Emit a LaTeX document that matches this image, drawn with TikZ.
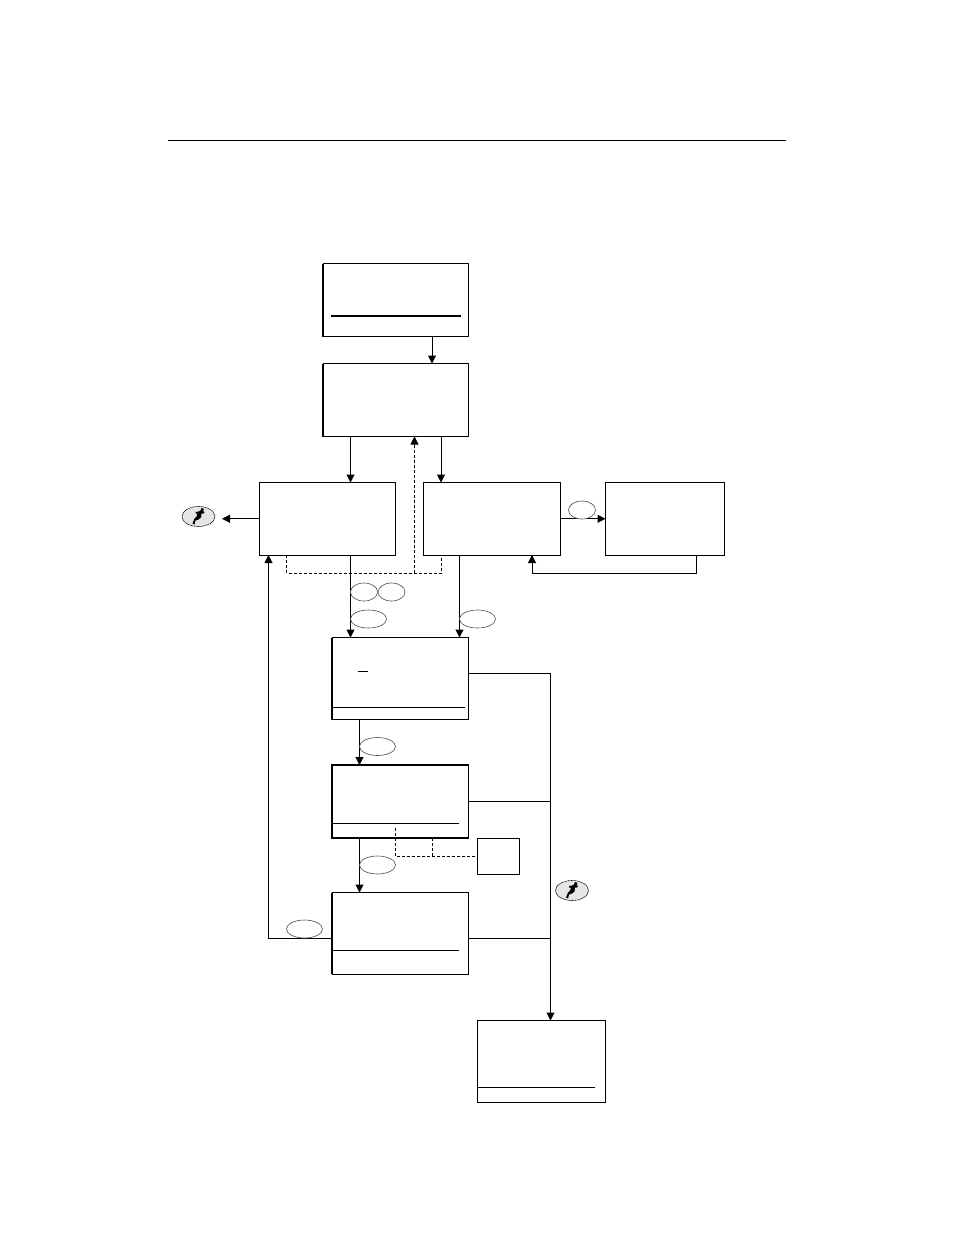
\documentclass[tikz,border=0pt]{standalone}
\usetikzlibrary{arrows.meta,shapes.geometric}
\newcommand{\flowbox}[6]{\node[sbox,minimum width=#4 pt,minimum height=#5 pt,#6] (#1) at (#2,#3) {};}
\begin{document}
\begin{tikzpicture}[x=1pt,y=-1pt,line width=1pt,
  arr/.style={-{Triangle[length=8pt,width=8pt]}},
  dashline/.style={dash pattern=on 3pt off 2pt,line width=.8pt},
  sbox/.style={draw,line width=1pt,anchor=north west,inner sep=0pt,outer sep=0pt},
  oval/.style={draw,ellipse,line width=.6pt,draw=black!70,minimum width=36pt,minimum height=18pt,inner sep=0pt,fill=white},
  smalloval/.style={oval,minimum width=27pt},
  icon/.style={draw,ellipse,line width=.6pt,dashed,dash pattern=on 1pt off .5pt,fill=black!10,minimum width=33pt,minimum height=20pt,inner sep=0pt},
  runner/.pic={\fill[black] (-6,7) -- (-4,2) -- (-2,0) -- (-1,-3) -- (-3,-3) -- (-3,-4.5) -- (0,-5) -- (2,-6) -- (3,-8.5) -- (5.5,-7.5) -- (4.5,-5.5) -- (6,-4.5) -- (5,-3) -- (3,-3) -- (2.5,1) -- (0,3) -- (-3,4) -- (-4,8) -- cycle;}]
\useasboundingbox (0,0) rectangle (954,1235);
\draw (168,140) -- (786,140);
\flowbox{A}{323}{263.5}{145.5}{73}{}
\flowbox{B}{323}{363.5}{145.5}{73}{}
\flowbox{C}{259.5}{482.5}{136}{72.5}{}
\flowbox{D}{423.5}{482.5}{136.5}{72.5}{}
\flowbox{E}{605.5}{482.5}{118.5}{72.5}{}
\flowbox{F}{332}{637.5}{136.5}{82}{}
\flowbox{G}{332}{765}{136.5}{73}{line width=1.5pt}
\flowbox{H}{332}{892.5}{136.5}{81.5}{}
\flowbox{I}{477.5}{1020.5}{128}{81.5}{}
\flowbox{J}{477.5}{838.5}{42}{36}{}
% thick left edges
\foreach \n in {A,B,F,H}{\draw[line width=1.5pt] (\n.north west) -- (\n.south west);}
% inner rules
\draw[line width=2pt] (331,315.5) -- (461,315.5);
\draw (332,707) -- (465,707);
\draw (358,671) -- (368,671);
\draw (332,823) -- (459,823);
\draw (332,950) -- (459,950);
\draw (478,1087) -- (595,1087);
% connectors
\draw[arr] (A.south -| 432,0) -- (B.north -| 432,0);
\draw[arr] (B.south -| 350.5,0) -- (C.north -| 350.5,0);
\draw[arr] (B.south -| 441,0) -- (D.north -| 441,0);
\draw[arr] (C.west) -- ++(-37.5,0) coordinate (runL);
\draw[arr] (D.east) -- (E.west);
\draw[arr] (E.south -| 696,0) -- (696,573) -- (532,573) -- (D.south -| 532,0);
\draw[arr] (C.south -| 350.5,0) -- (F.north -| 350.5,0);
\draw[arr] (D.south -| 459.5,0) -- (F.north -| 459.5,0);
\draw[arr] (F.south -| 359.5,0) -- (G.north -| 359.5,0);
\draw[arr] (G.south -| 359.5,0) -- (H.north -| 359.5,0);
\draw[arr] (H.west |- 0,938) -- (268.5,938) -- (C.south -| 268.5,0);
\draw (F.east |- 0,673.5) -- (550.5,673.5);
\draw (G.east |- 0,801.5) -- (550.5,801.5);
\draw (H.east |- 0,938) -- (550.5,938);
\draw[arr] (550.5,673.5) -- (I.north -| 550.5,0);
% dashed
\draw[dashline] (C.south -| 286.5,0) -- (286.5,573) -- (441.5,573) -- (D.south -| 441.5,0);
\draw[dashline,arr] (414.5,573) -- (B.south -| 414.5,0);
\draw[dashline] (395.5,828) -- (395.5,856.5) -- (J.west |- 0,856.5);
\draw[dashline] (G.south -| 432.5,0) -- (432.5,856.5);
% ovals
\node[smalloval] (o1) at (364,592) {};
\node[smalloval] (o2) at (391.5,592) {};
\node[oval] (o3) at (368.5,619) {};
\node[oval] (o4) at (477.5,619) {};
\node[smalloval] (o5) at (582,510) {};
\node[oval] (o6) at (377.5,746.5) {};
\node[oval] (o7) at (377.5,865) {};
\node[oval] (o8) at (304.5,929) {};
% icons
\node[icon] (r1) at (198.5,516.5) {};
\pic at (r1.center) {runner};
\node[icon] (r2) at (572,890.5) {};
\pic at (r2.center) {runner};
\end{tikzpicture}
\end{document}
